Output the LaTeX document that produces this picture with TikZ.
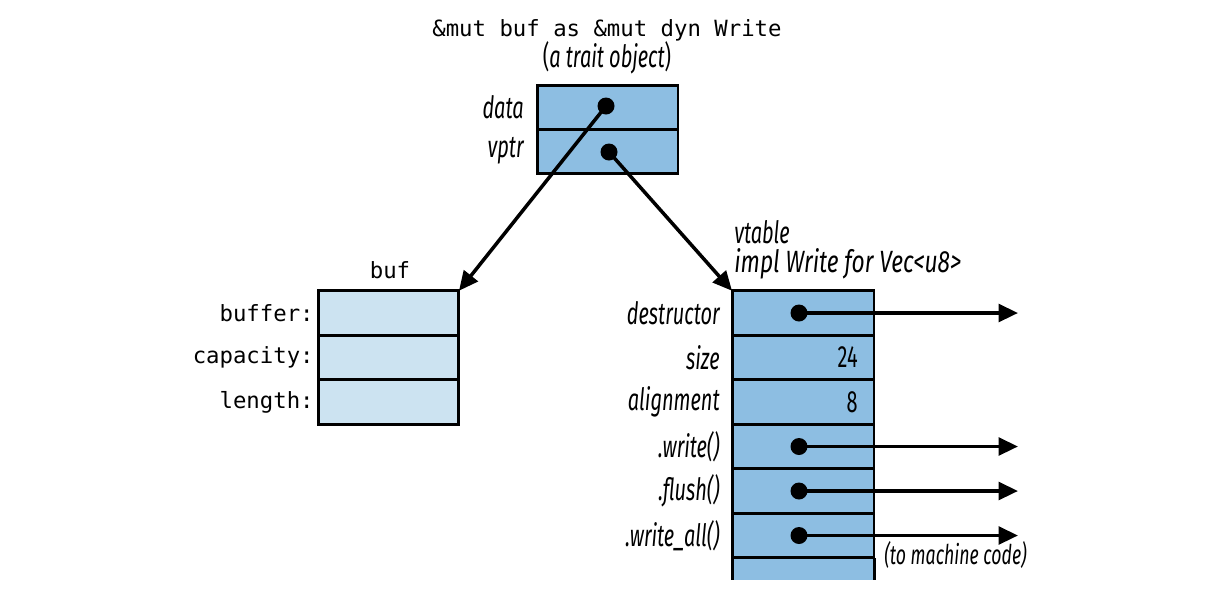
\documentclass[tikz,border=0pt]{standalone}
\usepackage{fontspec}
\setmonofont{DejaVu Sans Mono}
\newfontfamily\cond[FakeStretch=0.65]{Fira Sans}
\newfontfamily\condw[FakeStretch=0.74]{Fira Sans}
\usetikzlibrary{arrows.meta}
\definecolor{midblue}{RGB}{141,190,226}
\definecolor{lightblue}{RGB}{204,227,241}
\begin{document}
\begin{tikzpicture}[x=0.02cm,y=-0.02cm,
  cellA/.style={draw, line width=1.7pt, fill=midblue, minimum width=2.82cm, minimum height=0.88cm, inner sep=0pt, outer sep=0pt},
  cellB/.style={draw, line width=1.7pt, fill=lightblue, minimum width=2.82cm, minimum height=0.89cm, inner sep=0pt, outer sep=0pt},
  cellV/.style={draw, line width=1.7pt, fill=midblue, minimum width=2.84cm, minimum height=0.89cm, inner sep=0pt, outer sep=0pt},
  lab/.style={font=\cond\itshape\fontsize{17.5}{19}\selectfont, inner sep=0pt},
  mono/.style={font=\ttfamily\fontsize{12.7}{15}\selectfont, inner sep=0pt},
  dotp/.style={circle, fill=black, minimum size=0.34cm, inner sep=0pt},
  arr/.style={line width=2pt, -{Triangle[length=11pt,width=10pt]}}
]
\useasboundingbox (0,0) rectangle (1220,600);

% title
\node[mono] (title) at (607,30) {\&mut buf as \&mut dyn Write};
\node[lab] (sub) at (607,58) {{\upshape(}a trait object{\upshape)}};

% trait object
\node[cellA] (to1) at (607.5,107) {};
\node[cellA] (to2) at (607.5,151) {};
\node[lab, anchor=east] (ldata) at ([xshift=-0.26cm]to1.west) {data};
\node[lab, anchor=east] (lvptr) at ([xshift=-0.26cm]to2.west) {vptr};

% buf
\node[mono] (buftitle) at (390,270) {buf};
\node[cellB] (b1) at (388.5,313) {};
\node[cellB] (b2) at (388.5,357.5) {};
\node[cellB] (b3) at (388.5,402) {};
\node[mono, anchor=east] (lb1) at ([xshift=-0.08cm]b1.west) {buffer:};
\node[mono, anchor=east] (lb2) at ([xshift=-0.08cm]b2.west) {capacity:};
\node[mono, anchor=east] (lb3) at ([xshift=-0.08cm]b3.west) {length:};

% vtable
\node[lab, anchor=base west] (vt) at (734,243) {vtable};
\node[lab, font=\condw\itshape\fontsize{17.5}{19}\selectfont, anchor=base west] (impl) at (734,272) {impl Write for Vec<u8>};
\fill[midblue] (732,558) rectangle (874,580);
\draw[line width=1.7pt] (732,558) -- (732,580) (874,558) -- (874,580);
\node[cellV] (v1) at (803,313) {};
\node[cellV] (v2) at (803,357.5) {};
\node[cellV] (v3) at (803,402) {};
\node[cellV] (v4) at (803,446.5) {};
\node[cellV] (v5) at (803,491) {};
\node[cellV] (v6) at (803,535.5) {};
\node[lab, anchor=east] (lv1) at ([xshift=-0.24cm]v1.west) {destructor};
\node[lab, anchor=east] (lv2) at ([xshift=-0.24cm]v2.west) {size};
\node[lab, anchor=east] (lv3) at ([xshift=-0.24cm]v3.west) {alignment};
\node[lab, anchor=east] (lv4) at ([xshift=-0.24cm]v4.west) {.write()};
\node[lab, anchor=east] (lv5) at ([xshift=-0.24cm]v5.west) {.flush()};
\node[lab, anchor=east] (lv6) at ([xshift=-0.24cm]v6.west) {.write\_all()};
\node[lab, font=\cond\fontsize{17.5}{19}\selectfont, anchor=east] (n24) at ([xshift=-0.32cm]v2.east) {24};
\node[lab, font=\cond\fontsize{17.5}{19}\selectfont, anchor=east] (n8) at ([xshift=-0.32cm]v3.east) {8};
\node[lab, font=\cond\itshape\fontsize{15.5}{17}\selectfont, anchor=west] (mc) at (884,555) {(to machine code)};

% dots
\node[dotp] (dd) at (606,106) {};
\node[dotp] (dv) at (609,152) {};
\node[dotp] (p1) at (799,313) {};
\node[dotp] (p4) at (799,446.5) {};
\node[dotp] (p5) at (799,491) {};
\node[dotp] (p6) at (799,535.5) {};
\coordinate (e1) at (1018,313);
\coordinate (e4) at (1018,446.5);
\coordinate (e5) at (1018,491);
\coordinate (e6) at (1018,535.5);

% connectors
\draw[arr] (dd.center) -- (b1.north east);
\draw[arr] (dv.center) -- (v1.north west);
\draw[arr] (p1.center) -- (e1);
\draw[arr] (p4.center) -- (e4);
\draw[arr] (p5.center) -- (e5);
\draw[arr] (p6.center) -- (e6);
\end{tikzpicture}
\end{document}
